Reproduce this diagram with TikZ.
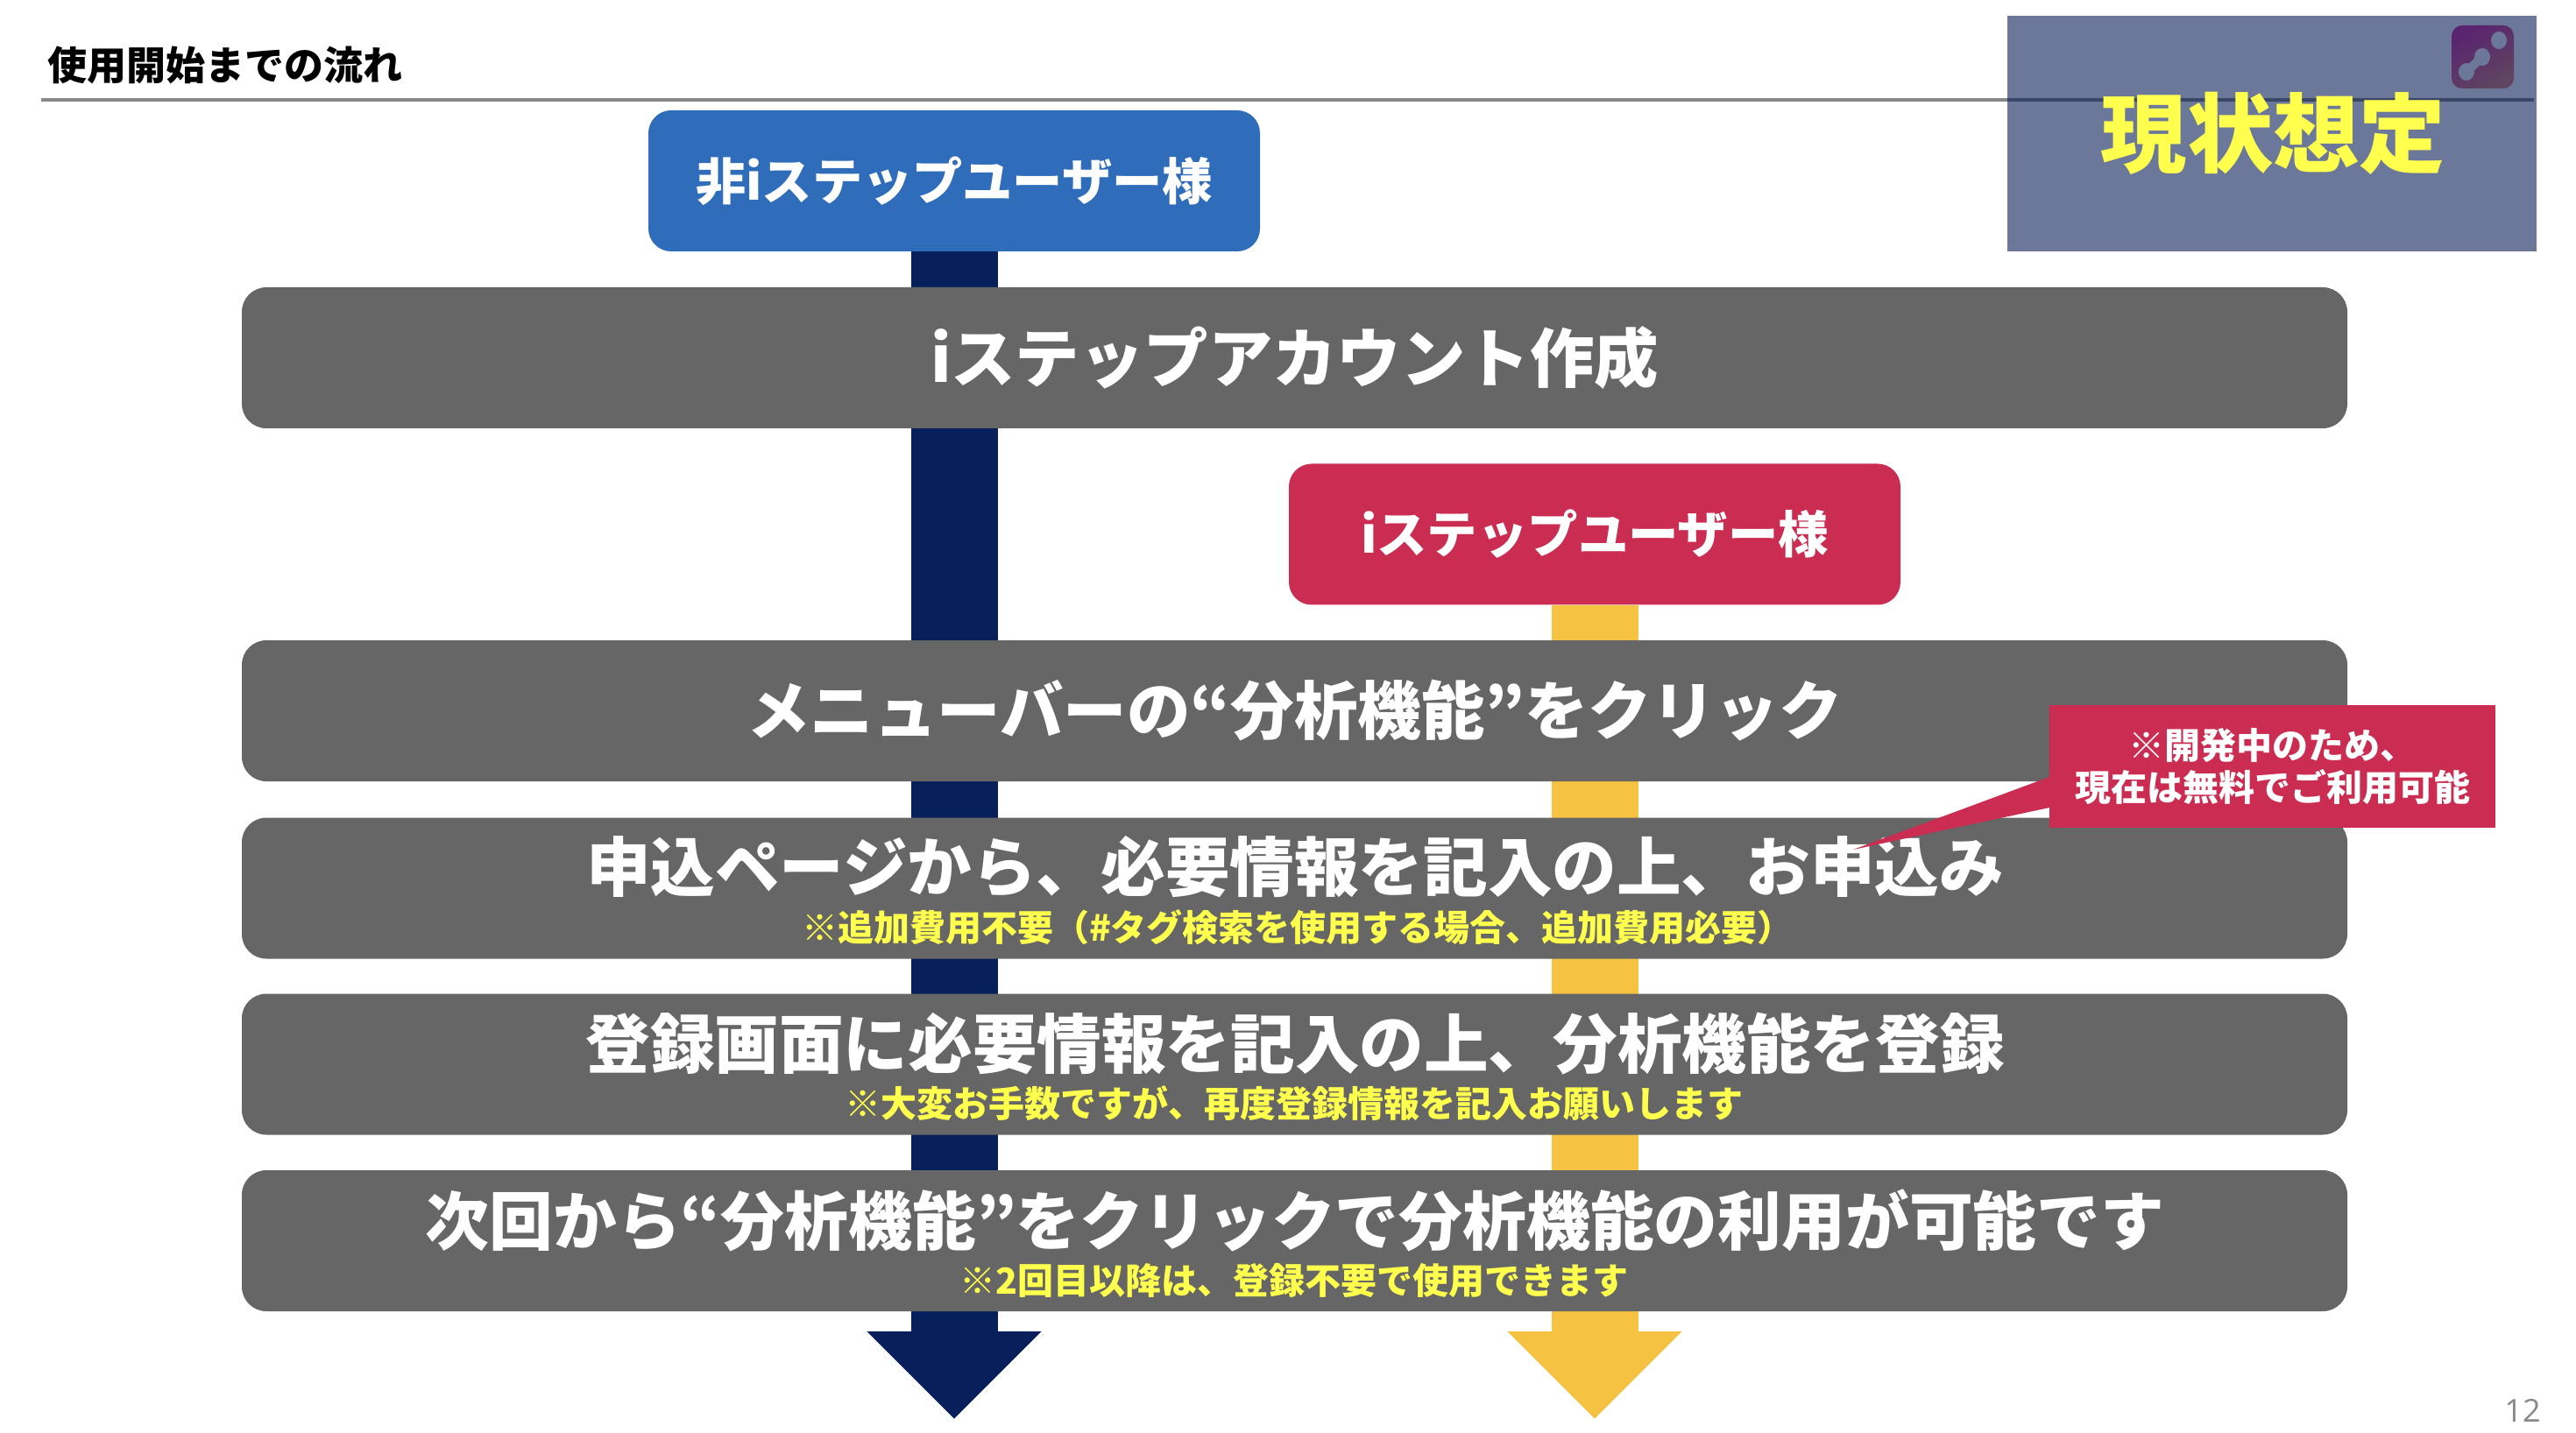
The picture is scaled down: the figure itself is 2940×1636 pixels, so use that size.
\documentclass[tikz,border=0pt]{standalone}
\usepackage{fontspec}
\setmainfont{Noto Sans CJK JP}
\newfontfamily\numfont{Open Sans}
\usetikzlibrary{arrows.meta,backgrounds}
\definecolor{boxgray}{HTML}{666666}
\definecolor{userblue}{HTML}{2F6DBB}
\definecolor{userred}{HTML}{CB2C51}
\definecolor{navyflow}{HTML}{071F5A}
\definecolor{yellowflow}{HTML}{F5C242}
\definecolor{noteyellow}{HTML}{FFFF4D}
\definecolor{rulegray}{HTML}{888888}
\definecolor{tagbox}{HTML}{041A52}
\definecolor{tagflat}{HTML}{6B7899}
\definecolor{logoA}{HTML}{5A2470}
\definecolor{logoB}{HTML}{5F4560}
\tikzset{
  fs/.style={font=\bfseries\fontsize{#1}{#1}\selectfont},
  stepbox/.style={fill=boxgray,text=white,rounded corners=14pt,inner sep=0pt,minimum width=1201.5pt,minimum height=80.5pt},
  userbox/.style={text=white,rounded corners=13pt,inner sep=0pt,minimum width=349pt,minimum height=80.5pt},
  mainlabel/.style={text=white,inner sep=0pt},
  sublabel/.style={text=noteyellow,inner sep=0pt,fs=20.5},
  flow/.style={line width=49.5pt,-{Triangle[length=50pt,width=96.5pt]}}
}
\begin{document}
\begin{tikzpicture}[x=0.5pt,y=-0.5pt]
\useasboundingbox (0,0) rectangle (2940,1636);
% heading
\node[anchor=west,inner sep=0pt,fs=22.5,text=black] (title) at (54,74) {使用開始までの流れ};
\coordinate (ruleL) at (47,114);
\coordinate (ruleR) at (2892,114);
\draw[rulegray,line width=2pt] (ruleL) -- (ruleR);
% tag panel
\node[fill=tagbox,fill opacity=0.59,inner sep=0pt,minimum width=302pt,minimum height=134.5pt] (tag) at (2593,152.5) {};
\node[inner sep=0pt,minimum width=35.5pt,minimum height=36pt,rounded corners=6pt,
      left color=logoA,right color=logoB,shading angle=30] (logo) at (2833.5,65) {};
\fill[tagflat] (2852,46) ellipse (9 and 10);
\fill[tagflat] (2815,82) ellipse (9 and 10);
\fill[tagflat] (2833,65) ellipse (9 and 10);
\draw[tagflat,line width=5pt] (2815,82) -- (2833,65);
\node[inner sep=0pt,fs=49.2,text=noteyellow] (tagtext) at (2594.5,152) {現状想定};
% boxes
\node[stepbox,fs=36.7] (s1) at (1477.5,408.5) {iステップアカウント作成};
\node[stepbox,fs=36.25] (s2) at (1477.5,811.5) {メニューバーの“分析機能”をクリック};
\node[stepbox] (s3) at (1477.5,1014) {};
\node[stepbox] (s4) at (1477.5,1215) {};
\node[stepbox] (s5) at (1477.5,1416.5) {};
\node[mainlabel,fs=36.8] (m3) at (1478,990) {申込ページから、必要情報を記入の上、お申込み};
\node[sublabel] (n3) at (1481,1059) {※追加費用不要（\#タグ検索を使用する場合、追加費用必要）};
\node[mainlabel,fs=36.8] (m4) at (1478,1192) {登録画面に必要情報を記入の上、分析機能を登録};
\node[sublabel] (n4) at (1477,1260) {※大変お手数ですが、再度登録情報を記入お願いします};
\node[mainlabel,fs=36.4] (m5) at (1478,1393) {次回から“分析機能”をクリックで分析機能の利用が可能です};
\node[sublabel] (n5) at (1477,1462) {※2回目以降は、登録不要で使用できます};
% user boxes
\node[userbox,fill=userblue,fs=28.6] (nonuser) at (1089,206.5) {非iステップユーザー様};
\node[userbox,fill=userred,fs=28.7] (user) at (1820,610) {iステップユーザー様};
% flows behind the boxes
\coordinate (navyend) at (1089,1620);
\coordinate (yellowend) at (1820,1620);
\begin{scope}[on background layer]
\fill[white] (0,0) rectangle (2940,1636);
\draw[flow,navyflow] (nonuser.south) -- (navyend);
\draw[flow,yellowflow] (user.south) -- (yellowend);
\end{scope}
% callout
\coordinate (tailtip) at (2115,970);
\coordinate (tailA) at (2339,887);
\coordinate (tailB) at (2339,922);
\fill[userred] (tailtip) -- (tailA) -- (tailB) -- cycle;
\node[fill=userred,text=white,inner sep=0pt,minimum width=254.5pt,minimum height=70pt,align=center,
      font=\bfseries\fontsize{20.5}{24}\selectfont] (note) at (2593.5,875) {※開発中のため、\\現在は無料でご利用可能};
% page number
\node[inner sep=0pt,text=rulegray,font=\numfont\fontsize{18}{18}\selectfont] (page) at (2879,1610) {12};
\end{tikzpicture}
\end{document}
